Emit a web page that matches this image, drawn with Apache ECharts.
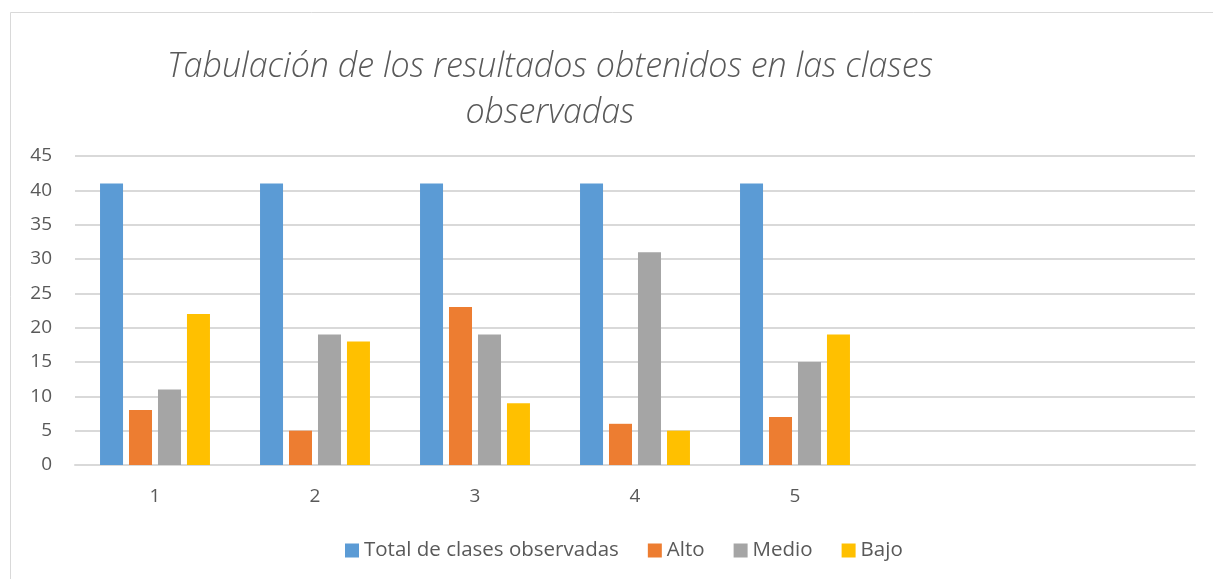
<!DOCTYPE html>
<html>
<head>
    <meta charset="utf-8">
    <title>ECharts</title>
    <script src="https://cdn.jsdelivr.net/npm/echarts@6/dist/echarts.min.js"></script>
</head>
<body style="margin:0">
    <div id="main" style="width: 1213px;height:579px;"></div>
    <script>
        var categories = ['1', '2', '3', '4', '5', '', ''];
        var seriesNames = ['Total de clases observadas', 'Alto', 'Medio', 'Bajo'];
        var totalData = [41, 41, 41, 41, 41];
        var altoData = [8, 5, 23, 6, 7];
        var medioData = [11, 19, 19, 31, 15];
        var bajoData = [22, 18, 9, 5, 19];
        var colors = ['#5B9BD5', '#ED7D31', '#A5A5A5', '#FFC000'];

        var myChart = echarts.init(document.getElementById('main'));

        function bar(name, data) {
            return {
                name: name,
                type: 'bar',
                barWidth: 23,
                barGap: '26%',
                data: data
            };
        }

        var option = {
            backgroundColor: '#ffffff',
            color: colors,
            animation: false,
            textStyle: { fontFamily: 'Open Sans' },
            title: {
                text: 'Tabulación de los resultados obtenidos en las clases\nobservadas',
                left: 545,
                textAlign: 'center',
                top: 39,
                textStyle: {
                    fontSize: 34,
                    fontStyle: 'italic',
                    fontWeight: 300,
                    color: '#595959',
                    lineHeight: 46,
                    fontFamily: 'Open Sans'
                }
            },
            legend: {
                bottom: 13,
                left: 340,
                itemWidth: 14,
                itemHeight: 14,
                itemGap: 29,
                icon: 'rect',
                textStyle: { fontSize: 20.5, color: '#595959' },
                data: seriesNames
            },
            graphic: [{
                type: 'rect',
                shape: { x: 10.5, y: 12.5, width: 1220, height: 600 },
                style: { fill: 'none', stroke: '#d9d9d9', lineWidth: 1 },
                silent: true
            }],
            grid: {
                left: 75,
                right: 18,
                top: 156,
                bottom: 114
            },
            xAxis: {
                type: 'category',
                data: categories,
                axisTick: { show: false },
                axisLine: { lineStyle: { color: '#d9d9d9', width: 2 } },
                axisLabel: { fontSize: 19, color: '#595959', margin: 22 }
            },
            yAxis: {
                type: 'value',
                min: 0,
                max: 45,
                interval: 5,
                axisLine: { show: false },
                axisTick: { show: false },
                splitLine: { lineStyle: { color: '#d9d9d9', width: 2 } },
                axisLabel: { fontSize: 19, color: '#595959', margin: 23 }
            },
            series: [
                bar(seriesNames[0], totalData),
                bar(seriesNames[1], altoData),
                bar(seriesNames[2], medioData),
                bar(seriesNames[3], bajoData)
            ]
        };
        myChart.setOption(option);
    </script>
</body>
</html>
